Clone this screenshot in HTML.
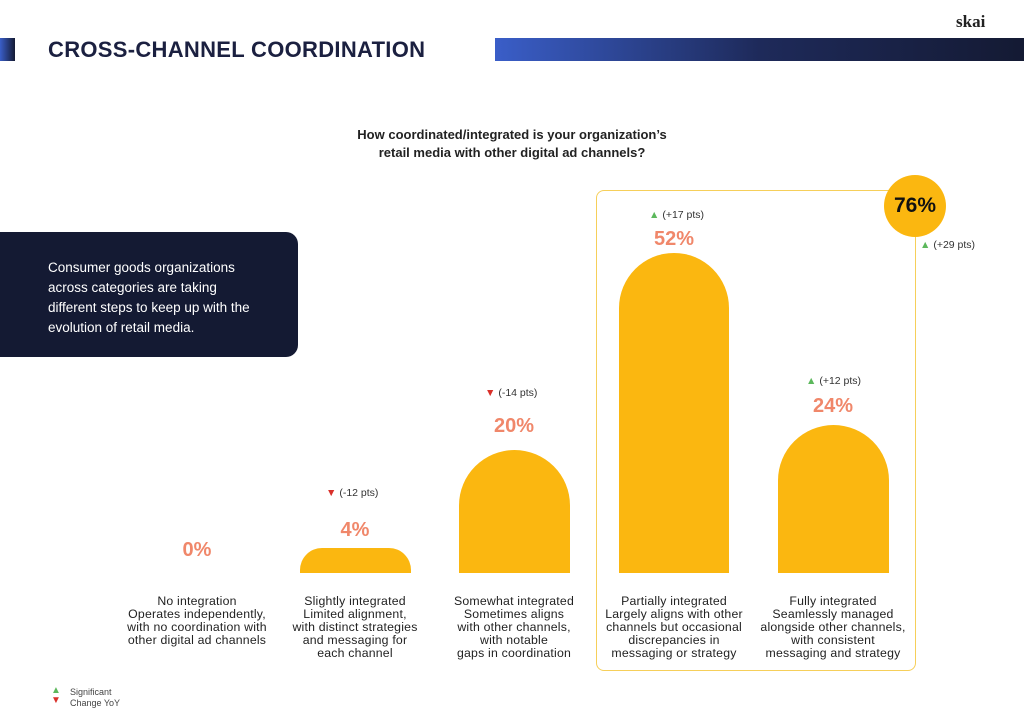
<!DOCTYPE html>
<html><head><style>
body{margin:0;width:1024px;height:722px;background:#fff;position:relative;overflow:hidden;font-family:"Liberation Sans",sans-serif;color:#1a1a1a}
.a{position:absolute}
.lab{position:absolute;width:180px;text-align:center;font-size:12.3px;line-height:13px;color:#222;letter-spacing:0.2px}
.pct{position:absolute;width:120px;text-align:center;font-size:20px;font-weight:bold;color:#f0876a}
.chg{position:absolute;font-size:10.5px;color:#333;white-space:nowrap}
.up{color:#5cb85c}.dn{color:#d9302a}
.bar{position:absolute;background:#fbb710}
</style></head><body>
<div class="a" style="left:0;top:38px;width:15px;height:23px;background:linear-gradient(90deg,#3a5ec8,#141a33)"></div>
<div class="a" style="left:48px;top:37px;font-size:22px;font-weight:bold;color:#1b2040;letter-spacing:0.3px">CROSS-CHANNEL COORDINATION</div>
<div class="a" style="left:495px;top:38px;width:529px;height:23px;background:linear-gradient(90deg,#3a5ec8,#1e2a5a 50%,#141a33)"></div>
<div class="a" style="left:956px;top:12px;font-size:17px;font-family:'Liberation Serif',serif;font-weight:bold;color:#222">skai</div>
<div class="a" style="left:300px;top:126px;width:424px;text-align:center;font-size:13px;font-weight:bold;line-height:18px;color:#222">How coordinated/integrated is your organization’s<br>retail media with other digital ad channels?</div>
<div class="a" style="left:0;top:232px;width:298px;height:125px;background:#141a33;border-radius:0 12px 12px 0"></div>
<div class="a" style="left:48px;top:258px;font-size:13.5px;line-height:20px;color:#fff">Consumer goods organizations<br>across categories are taking<br>different steps to keep up with the<br>evolution of retail media.</div>
<div class="a" style="left:596px;top:190px;width:318px;height:479px;border:1.5px solid #f6cf5a;border-radius:8px"></div>
<div class="a" style="left:884px;top:175px;width:62px;height:62px;border-radius:50%;background:#fbb710;text-align:center;line-height:62px;font-size:21px;font-weight:bold;color:#111">76%</div>
<div class="chg" style="left:920px;top:239px"><span class="up">▲</span> (+29 pts)</div>
<div class="pct" style="left:137px;top:539px">0%</div>
<div class="bar" style="left:300px;top:548px;width:111px;height:25px;border-radius:22px 22px 0 0"></div>
<div class="pct" style="left:295px;top:519px">4%</div>
<div class="chg" style="left:326px;top:487px"><span class="dn">▼</span> (-12 pts)</div>
<div class="bar" style="left:459px;top:450px;width:111px;height:123px;border-radius:56px 56px 0 0"></div>
<div class="pct" style="left:454px;top:415px">20%</div>
<div class="chg" style="left:485px;top:387px"><span class="dn">▼</span> (-14 pts)</div>
<div class="bar" style="left:619px;top:253px;width:110px;height:320px;border-radius:55px 55px 0 0"></div>
<div class="pct" style="left:614px;top:228px">52%</div>
<div class="chg" style="left:649px;top:209px"><span class="up">▲</span> (+17 pts)</div>
<div class="bar" style="left:778px;top:425px;width:111px;height:148px;border-radius:56px 56px 0 0"></div>
<div class="pct" style="left:773px;top:395px">24%</div>
<div class="chg" style="left:806px;top:375px"><span class="up">▲</span> (+12 pts)</div>
<div class="lab" style="left:107px;top:595px">No integration<br>Operates independently,<br>with no coordination with<br>other digital ad channels</div>
<div class="lab" style="left:265px;top:595px">Slightly integrated<br>Limited alignment,<br>with distinct strategies<br>and messaging for<br>each channel</div>
<div class="lab" style="left:424px;top:595px">Somewhat integrated<br>Sometimes aligns<br>with other channels,<br>with notable<br>gaps in coordination</div>
<div class="lab" style="left:584px;top:595px">Partially integrated<br>Largely aligns with other<br>channels but occasional<br>discrepancies in<br>messaging or strategy</div>
<div class="lab" style="left:743px;top:595px">Fully integrated<br>Seamlessly managed<br>alongside other channels,<br>with consistent<br>messaging and strategy</div>
<div class="a" style="left:51px;top:686px;font-size:10px;line-height:10px"><span class="up">▲</span><br><span class="dn">▼</span></div>
<div class="a" style="left:70px;top:687px;font-size:9px;line-height:11px;color:#444">Significant<br>Change YoY</div>
</body></html>
